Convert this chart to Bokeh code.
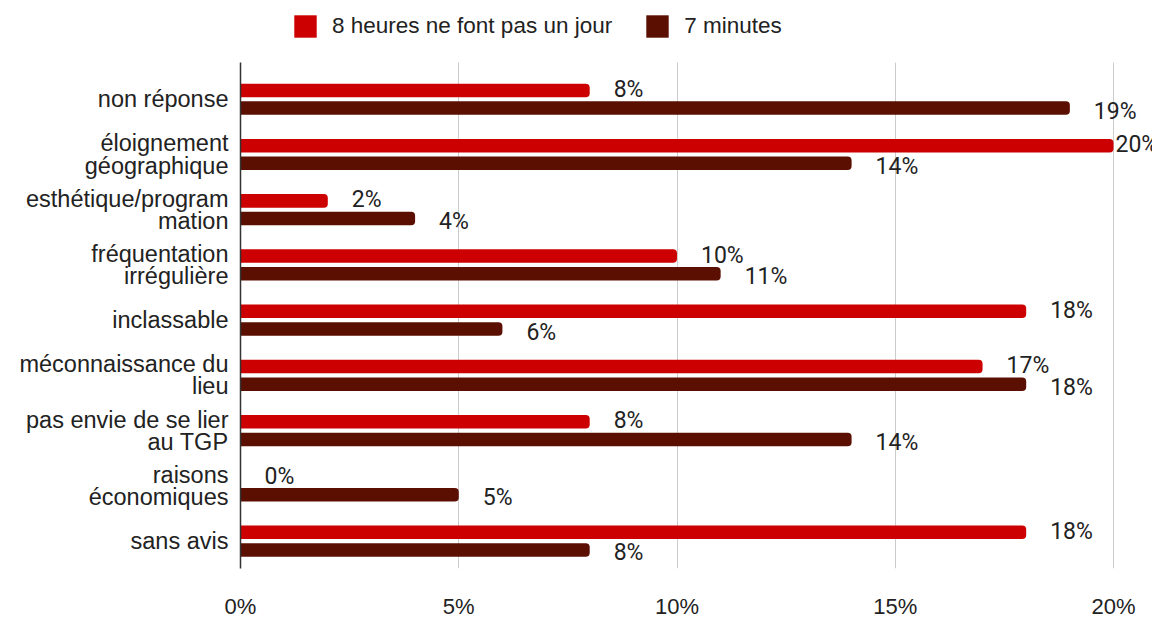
from bokeh.plotting import figure
from bokeh.models import (ColumnDataSource, Range1d, FixedTicker, LabelSet,
                          Legend, LegendItem, Grid)
from bokeh.core.properties import value
from bokeh.embed import file_html
from bokeh.resources import INLINE

categories = ["non réponse", "éloignement\ngéographique", "esthétique/program\nmation",
              "fréquentation\nirrégulière", "inclassable", "méconnaissance du\nlieu",
              "pas envie de se lier\nau TGP", "raisons\néconomiques", "sans avis"]
series_names = ["8 heures ne font pas un jour", "7 minutes"]
huit_heures = [8, 20, 2, 10, 18, 17, 8, 0, 18]
sept_minutes = [19, 14, 4, 11, 6, 18, 14, 5, 8]
x_ticks = [0, 5, 10, 15, 20]
x_tick_labels = ["0%", "5%", "10%", "15%", "20%"]

colors = ["#cc0000", "#5b0f00"]
W, H = 1152, 621
FL, FR, FB = 240, 1152, 578        # frame edges in px (frame top at 0)
PLOT_TOP = 63                       # visible top of plotting area
px_per_unit = (1113 - FL) / 20.0
px_per_cat = 56.2
first_cat_px = 100.5
y_top = -first_cat_px / px_per_cat
y_plot_top = -(first_cat_px - PLOT_TOP) / px_per_cat
y_bottom = (FB - first_cat_px) / px_per_cat

p = figure(width=W, height=H, output_backend="svg", toolbar_location=None,
           x_range=Range1d(0, (FR - FL) / px_per_unit), y_range=Range1d(y_bottom, y_top),
           min_border_left=FL, min_border_right=W - FR,
           min_border_top=0, min_border_bottom=H - FB)
p.outline_line_color = None
p.background_fill_color = "white"

idx = list(range(len(categories)))
off = 0.16
bh = 0.245
renderers = []
for k, (vals, col) in enumerate([(huit_heures, colors[0]), (sept_minutes, colors[1])]):
    ys = [i + (-off if k == 0 else off) for i in idx]
    src = ColumnDataSource(dict(
        y=ys, v=vals,
        lab=[f"{v}%" for v in vals],
        xo=[2 if v >= 20 else 24 for v in vals],
    ))
    r = p.hbar(y="y", left=0, right="v", height=bh, source=src, fill_color=col,
               line_color=None, border_radius=(0, 4, 4, 0))
    renderers.append(r)
    ls = LabelSet(x="v", y="y", text="lab", source=src, x_offset="xo",
                  y_offset=(1 if k == 0 else -3),
                  text_font=value("Roboto"), text_font_size="23px",
                  text_color="#222222",
                  text_baseline="middle", text_align="left")
    p.add_layout(ls)

# axes
p.xaxis.ticker = FixedTicker(ticks=x_ticks)
p.xaxis.major_label_overrides = {t: l for t, l in zip(x_ticks, x_tick_labels)}
p.xaxis.axis_line_color = None
p.xaxis.major_tick_line_color = None
p.xaxis.minor_tick_line_color = None
p.xaxis.major_label_standoff = 19
p.xaxis.major_label_text_font = "Liberation Sans"
p.xaxis.major_label_text_font_size = "22px"
p.xaxis.major_label_text_color = "#222222"

p.yaxis.ticker = FixedTicker(ticks=idx)
p.yaxis.bounds = (y_plot_top, y_bottom)
p.yaxis.major_label_overrides = {i: c for i, c in zip(idx, categories)}
p.yaxis.axis_line_color = "#333333"
p.yaxis.axis_line_width = 1.5
p.yaxis.major_tick_line_color = None
p.yaxis.minor_tick_line_color = None
p.yaxis.major_label_standoff = 6
p.yaxis.major_label_text_font = "Liberation Sans"
p.yaxis.major_label_text_font_size = "23.5px"
p.yaxis.major_label_text_line_height = 0.85
p.yaxis.major_label_text_color = "#222222"

p.ygrid.grid_line_color = None
if "cross_bounds" in Grid.properties():
    p.xgrid.ticker = FixedTicker(ticks=x_ticks[1:])
    p.xgrid.cross_bounds = (y_plot_top, y_bottom)
    p.xgrid.grid_line_color = "#cccccc"
    p.xgrid.grid_line_width = 1
else:
    p.xgrid.grid_line_color = None
    gx = x_ticks[1:]
    p.segment(x0=gx, x1=gx, y0=[y_plot_top] * len(gx), y1=[y_bottom] * len(gx),
              line_color="#cccccc", line_width=1, level="underlay")

legend = Legend(items=[LegendItem(label=series_names[0], renderers=[renderers[0]]),
                       LegendItem(label=series_names[1], renderers=[renderers[1]])],
                orientation="horizontal", location=(51, FB - 50),
                glyph_width=28, glyph_height=28, label_standoff=13, spacing=31,
                padding=0, margin=0, border_line_color=None,
                background_fill_alpha=0,
                label_text_font="Liberation Sans", label_text_font_size="22.5px",
                label_text_color="#222222")
p.add_layout(legend)

open("out.html", "w").write(file_html(p, INLINE))
